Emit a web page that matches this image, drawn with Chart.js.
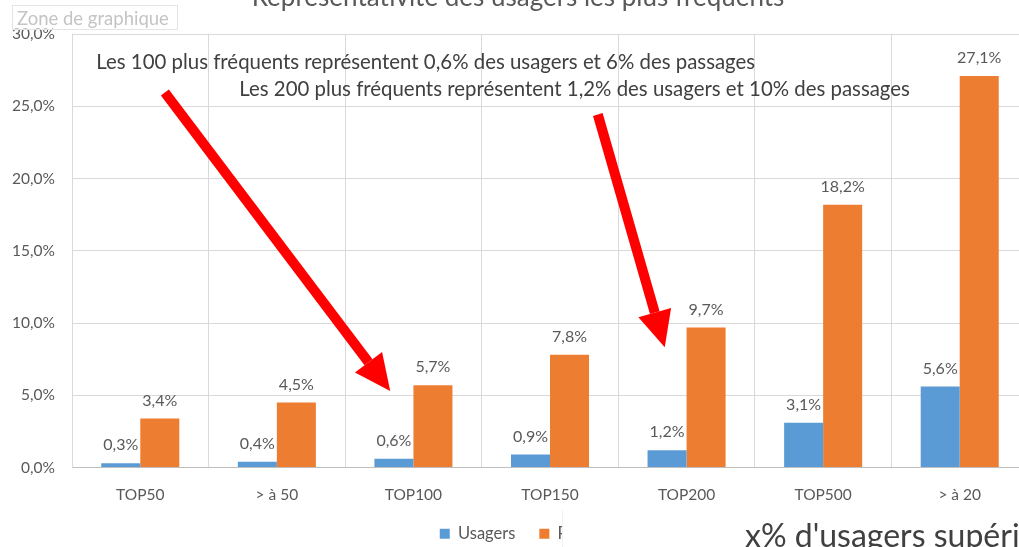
<!DOCTYPE html>
<html>
<head>
<meta charset="utf-8">
<script src="https://cdn.jsdelivr.net/npm/chart.js@4.4.1/dist/chart.umd.min.js"></script>
<style>
  html, body { margin: 0; padding: 0; width: 1019px; height: 547px; overflow: hidden; background: #fff; }
  #wrap { position: absolute; left: 0; top: -20px; width: 1040px; height: 572px; }
  #zone { position: absolute; left: 12px; top: 5px; width: 166px; height: 25px; border: 1px solid #e4e4e4;
          font-family: Lato, sans-serif; font-size: 18.5px; color: #c4c4c4; line-height: 24px; padding-left: 4px; box-sizing: border-box; background: rgba(255,255,255,0.6); white-space: nowrap; }
  #cover { position: absolute; left: 562px; top: 510px; width: 470px; height: 40px; background: #fff; border-left: 1px solid #f2f2f2; }
  #big { position: absolute; left: 745px; top: 515px; white-space: nowrap; font-family: Lato, sans-serif; font-size: 32px; color: #404040; }
</style>
</head>
<body>
<div id="wrap"><canvas id="c" width="1040" height="572"></canvas></div>
<div id="zone">Zone de graphique</div>
<div id="cover"></div>
<div id="big">x% d'usagers supérieurs</div>
<script>
const categories = ["TOP50", "> à 50", "TOP100", "TOP150", "TOP200", "TOP500", "> à 20"];
const usagers = [0.3, 0.4, 0.6, 0.9, 1.2, 3.1, 5.6];
const passages = [3.4, 4.5, 5.7, 7.8, 9.7, 18.2, 27.1];
const yTicks = [0, 5, 10, 15, 20, 25, 30];

const FONT = "Lato, 'Open Sans', sans-serif";
const fmt = v => v.toFixed(1).replace('.', ',') + '%';

// annotations in data coordinates (category index, value)
const notes = [
  { text: "Les 100 plus fréquents représentent 0,6% des usagers et 6% des passages", x: 2.09, y: 28.05 },
  { text: "Les 200 plus fréquents représentent 1,2% des usagers et 10% des passages", x: 3.18, y: 26.18 }
];
const arrows = [
  { from: [0.18, 25.97], to: [1.83, 5.3] },
  { from: [3.35, 24.44], to: [3.84, 8.33] }
];

const labelPlugin = {
  id: 'labels',
  afterLayout(chart) {
    // nudge legend & title slightly right, as in the source image
    const l = chart.legend; l.left += 17; l.right += 17;
    const t = chart.titleBlock; if (t) { t.left += 4; t.right += 4; }
  },
  afterDatasetsDraw(chart) {
    const ctx = chart.ctx;
    ctx.save();
    ctx.font = "16px " + FONT;
    ctx.fillStyle = '#595959';
    ctx.textAlign = 'center';
    ctx.textBaseline = 'middle';
    chart.data.datasets.forEach((ds, di) => {
      const meta = chart.getDatasetMeta(di);
      meta.data.forEach((el, i) => {
        ctx.fillText(fmt(ds.data[i]), el.x, el.y - 18);
      });
    });
    ctx.restore();
  },
  afterDraw(chart) {
    const ctx = chart.ctx;
    const xs = chart.scales.x, ys = chart.scales.y;
    ctx.save();
    ctx.font = "20.4px " + FONT;
    ctx.fillStyle = '#404040';
    ctx.textAlign = 'center';
    ctx.textBaseline = 'middle';
    notes.forEach(n => ctx.fillText(n.text, xs.getPixelForValue(n.x), ys.getPixelForValue(n.y)));
    ctx.fillStyle = '#ff0000';
    ctx.strokeStyle = '#ff0000';
    arrows.forEach(a => {
      const x1 = xs.getPixelForValue(a.from[0]), y1 = ys.getPixelForValue(a.from[1]);
      const x2 = xs.getPixelForValue(a.to[0]), y2 = ys.getPixelForValue(a.to[1]);
      const ang = Math.atan2(y2 - y1, x2 - x1);
      const headLen = 36, headW = 17, shaft = 10;
      const bx = x2 - headLen * Math.cos(ang), by = y2 - headLen * Math.sin(ang);
      ctx.lineWidth = shaft;
      ctx.lineCap = 'butt';
      ctx.beginPath();
      ctx.moveTo(x1, y1);
      ctx.lineTo(bx, by);
      ctx.stroke();
      const px = -Math.sin(ang), py = Math.cos(ang);
      ctx.beginPath();
      ctx.moveTo(x2, y2);
      ctx.lineTo(bx + px * headW, by + py * headW);
      ctx.lineTo(bx - px * headW, by - py * headW);
      ctx.closePath();
      ctx.fill();
    });
    ctx.restore();
  }
};

new Chart(document.getElementById('c'), {
  type: 'bar',
  data: {
    labels: categories,
    datasets: [
      { label: 'Usagers', data: usagers, backgroundColor: '#5B9BD5', categoryPercentage: 1 / 1.75, barPercentage: 1 },
      { label: 'Passages', data: passages, backgroundColor: '#ED7D31', categoryPercentage: 1 / 1.75, barPercentage: 1 }
    ]
  },
  options: {
    responsive: false,
    devicePixelRatio: 1,
    animation: false,
    layout: { padding: { left: 0, right: 12, top: 0, bottom: 0 } },
    plugins: {
      title: {
        display: true,
        text: 'Représentativité des usagers les plus fréquents',
        color: '#595959',
        font: { family: FONT, size: 26, weight: 'normal' },
        padding: { top: 2, bottom: 21 }
      },
      legend: {
        position: 'bottom',
        labels: { color: '#595959', font: { family: FONT, size: 16.5 }, boxWidth: 10, boxHeight: 10, padding: 24 }
      },
      tooltip: { enabled: false }
    },
    scales: {
      x: {
        grid: { color: '#d9d9d9', drawTicks: false },
        border: { color: '#bfbfbf' },
        ticks: { color: '#595959', font: { family: FONT, size: 15.5 }, padding: 18, maxRotation: 0 },
        afterFit(s) { s.height = 34; }
      },
      y: {
        min: 0, max: 30,
        afterBuildTicks(s) { s.ticks = yTicks.map(v => ({ value: v })); },
        grid: { color: '#d9d9d9', drawTicks: false },
        border: { color: '#d9d9d9' },
        ticks: { color: '#595959', font: { family: FONT, size: 15.5 }, padding: 17, callback: v => fmt(v) },
        afterFit(s) { s.width = 72; }
      }
    }
  },
  plugins: [labelPlugin]
});
</script>
</body>
</html>
